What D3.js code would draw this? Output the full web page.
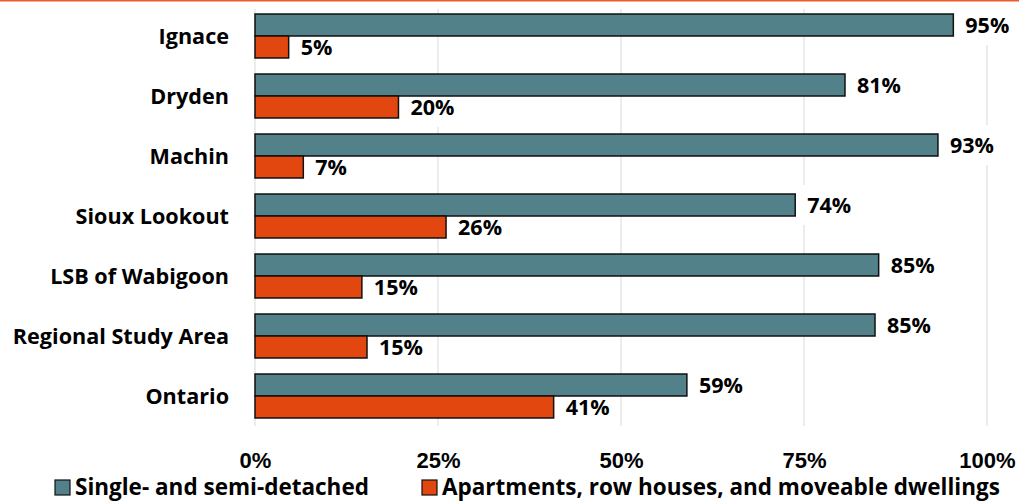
<!DOCTYPE html>
<html>
<head>
<meta charset="utf-8">
<script src="https://cdn.jsdelivr.net/npm/d3@7"></script>
<style>
  html, body { margin: 0; padding: 0; background: #fff; }
  svg { display: block; font-family: "Open Sans", "Noto Sans", sans-serif; font-weight: bold; }
</style>
</head>
<body>
<svg id="chart" width="1019" height="502"></svg>
<script>
const categories = ["Ignace", "Dryden", "Machin", "Sioux Lookout", "LSB of Wabigoon", "Regional Study Area", "Ontario"];
const singleValues = [95.4, 80.6, 93.3, 73.8, 85.2, 84.7, 59.0];
const apartmentValues = [4.6, 19.6, 6.6, 26.1, 14.6, 15.3, 40.8];
const seriesNames = ["Single- and semi-detached", "Apartments, row houses, and moveable dwellings"];
const seriesColors = ["#52818a", "#e2470f"];
const tickValues = [0, 25, 50, 75, 100];

const svg = d3.select("#chart");
const W = 1019, H = 502;
const catSize = 21.6, tickSize = 22, labelSize = 21.5, legendSize = 22.5;

// top accent line
svg.append("rect").attr("x", 0).attr("y", 0).attr("width", W).attr("height", 1.5).attr("fill", "#ef5a2a");

const x = d3.scaleLinear().domain([0, 100]).range([255, 987]);
const y = d3.scaleBand().domain(categories).range([6, 426]).paddingInner(0.267).paddingOuter(0.1335);
const sub = d3.scaleBand().domain([0, 1]).range([0, y.bandwidth()]);

// gridlines
svg.append("g").selectAll("line").data(tickValues).join("line")
  .attr("x1", d => x(d)).attr("x2", d => x(d))
  .attr("y1", 9).attr("y2", 426)
  .attr("stroke", "#d9d9d9").attr("stroke-width", 1);

const rows = categories.map((c, i) => ({ c, vals: [singleValues[i], apartmentValues[i]] }));
const flat = [];
rows.forEach(r => r.vals.forEach((v, s) => flat.push({ c: r.c, s, v })));

// label boxes (white), drawn under bars
const labelG = svg.append("g");
const boxG = labelG.append("g");
const textG = labelG.append("g");
const texts = textG.selectAll("text").data(flat).join("text")
  .attr("x", d => x(d.v) + 12)
  .attr("y", d => y(d.c) + sub(d.s) + sub.bandwidth() / 2)
  .attr("dy", "0.36em")
  .attr("font-size", labelSize)
  .attr("fill", "#000")
  .text(d => Math.round(d.v) + "%");
texts.each(function(d) {
  const w = this.getComputedTextLength();
  const cy = y(d.c) + sub(d.s) + sub.bandwidth() / 2;
  boxG.append("rect")
    .attr("x", x(d.v) + 6).attr("y", cy - 20)
    .attr("width", w + 14).attr("height", 40)
    .attr("fill", "#fff");
});

// bars
const barG = svg.append("g");
barG.selectAll("rect").data(flat).join("rect")
  .attr("x", x(0))
  .attr("y", d => y(d.c) + sub(d.s))
  .attr("width", d => x(d.v) - x(0))
  .attr("height", sub.bandwidth())
  .attr("fill", d => seriesColors[d.s])
  .attr("stroke", "#111")
  .attr("stroke-width", 1.5);

// bring text above bars
svg.node().appendChild(textG.node());

// category axis labels
svg.append("g").selectAll("text").data(categories).join("text")
  .attr("x", 229)
  .attr("y", d => y(d) + y.bandwidth() / 2)
  .attr("dy", "0.36em")
  .attr("text-anchor", "end")
  .attr("font-size", catSize)
  .attr("fill", "#000")
  .text(d => d);

// x axis
const xAxis = d3.axisBottom(x).tickValues(tickValues).tickSize(0).tickPadding(26).tickFormat(d => d + "%");
const ax = svg.append("g").attr("transform", "translate(0,426)").call(xAxis);
ax.select(".domain").remove();
ax.selectAll("text").attr("font-size", tickSize).attr("font-family", null).attr("fill", "#000");

// legend
const legendX = [55, 422];
const lg = svg.append("g");
seriesNames.forEach((name, i) => {
  lg.append("rect").attr("x", legendX[i]).attr("y", 480).attr("width", 15).attr("height", 15)
    .attr("fill", seriesColors[i]).attr("stroke", "#111").attr("stroke-width", 1.2);
  lg.append("text").attr("x", legendX[i] + 20).attr("y", 495)
    .attr("font-size", legendSize).attr("fill", "#000").text(name);
});
</script>
</body>
</html>
